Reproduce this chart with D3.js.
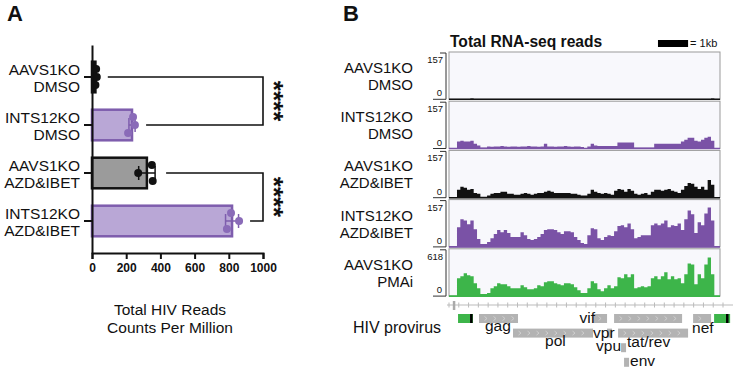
<!DOCTYPE html>
<html>
<head>
<meta charset="utf-8">
<script src="https://cdn.jsdelivr.net/npm/d3@7"></script>
<style>
  body { margin: 0; background: #fff; }
  text { font-family: "Liberation Sans", Arial, sans-serif; fill: #111; }
</style>
</head>
<body>
<div id="chart"></div>
<script>
// ---------- panel A data ----------
const groupLabels = [["AAVS1KO", "DMSO"], ["INTS12KO", "DMSO"], ["AAVS1KO", "AZD&IBET"], ["INTS12KO", "AZD&IBET"]];
const barValues = [20, 234, 321, 819];
const replicates = [[24, 28, 20], [240, 251, 211], [350, 270, 355], [813, 860, 789]];
const errorSD = [5, 18, 48, 38];
const xTicksA = [0, 200, 400, 600, 800, 1000];
const sigPairs = [[0, 1, "****"], [2, 3, "****"]];

// ---------- panel B data ----------
const trackLabels = [["AAVS1KO", "DMSO"], ["INTS12KO", "DMSO"], ["AAVS1KO", "AZD&IBET"], ["INTS12KO", "AZD&IBET"], ["AAVS1KO", "PMAi"]];
const trackMax = [157, 157, 157, 157, 618];
const binStart = 265, binSize = 111;   // bp

const covAavsDmso = [0,0,0,0,3,0,0,0,0,0, 0,0,0,0,0,0,0,0,0,0, 0,0,0,0,0,0,0,0,0,0,
  0,0,0,0,0,0,0,0,0,0, 0,0,0,0,0,0,0,0,0,0, 0,0,0,0,0,0,0,0,0,0,
  0,0,0,0,0,0,0,0,0,0, 0,0,0,0,0,0,3];
const covInts12Dmso = [23,26,23,23,26,16,10,3,3, 7,6,7,7,8,7,6,7,7,6,7,7,8,7,7,6,7, 16,
  7,7,6,7,7,8,7,6,7,7,5, 2,7,16,10, 8,8,8,8,8,8, 20,20,20,20,20, 3,3,3,3,3,3,
  16,16,16,16,16,16,16,16, 23,29,36,36,26,23,29,36,39,26];
const covAavsAzd = [26,36,33,26,29,16,13,3,3,7, 13,16,16,20,20,13,13,10,10,13, 16,13,10,13,16,16,20,23,20,16,
  16,16,16,16,13,13,10,7,7,13, 26,20,16,13,16,13,10,23,29,26, 20,29,23,13,10,13,16,10,20,26,
  26,23,26,29,23,20,16,26,39,49, 46,36,29,36,26,59,43];
const covInts12Azd = [65,92,88,75,88,59,26,10,10,16, 29,43,56,49,56,46,33,33,33,49, 39,26,23,26,33,43,56,59,59,56,
  49,43,52,52,49,33,23, 13,10,39,62,59,29,23,33,39,36, 52,69,72,65,78,59,29,33,39,39,
  39,72,78,72,78,88,65,72,69,78, 56,92,121,108,46,82,72,111,131,88];
const covAavsPma = [232,258,297,271,258,168,103,26,26,39, 103,129,168,155,155,129,103,103,103,142, 116,90,90,103,142,129,181,194,194,168,
  155,142,168,168,155,116,77, 39,39,103,194,168,90,65,103,142,103, 129,245,232,284,245,284,103,116,129,116,
  129,232,258,219,258,310,219,258,219,232, 168,284,426,413,155,284,232,413,503,284];
const coverage = [covAavsDmso, covInts12Dmso, covAavsAzd, covInts12Azd, covAavsPma];
const trackColors = ["#111111", "#7a52a6", "#111111", "#7a52a6", "#3db54a"];

const genes = [
  { name: "5'LTR", start: 300, end: 797, row: 0, ltr: true },
  { name: "gag", start: 997, end: 2292, row: 0 },
  { name: "pol", start: 2126, end: 4784, row: 1 },
  { name: "vif", start: 4784, end: 5249, row: 0 },
  { name: "vpr", start: 5249, end: 5415, row: 1 },
  { name: "vpu", start: 5714, end: 5880, row: 2 },
  { name: "tat/rev", start: 5482, end: 7741, row: 0 },
  { name: "tat/rev", start: 5615, end: 7940, row: 1 },
  { name: "env", start: 5814, end: 5980, row: 3 },
  { name: "nef", start: 8106, end: 8704, row: 0 },
  { name: "3'LTR", start: 8804, end: 9336, row: 0, ltr: true }
];
const ltrMarks = [700, 9200];
const geneLabels = [
  { text: "gag", bp: 1196, y: 331, anchor: "start" },
  { text: "pol", bp: 3189, y: 346, anchor: "start" },
  { text: "vif", bp: 4850, y: 323, anchor: "end" },
  { text: "vpr", bp: 4784, y: 338, anchor: "start" },
  { text: "vpu", bp: 4884, y: 351, anchor: "start" },
  { text: "tat/rev", bp: 5914, y: 347, anchor: "start" },
  { text: "env", bp: 6013, y: 366, anchor: "start" },
  { text: "nef", bp: 8073, y: 333, anchor: "start" }
];

const width = 735, height = 367;
const svg = d3.select("#chart").append("svg")
  .attr("width", width).attr("height", height);

// ================= Panel A =================
svg.append("text").attr("x", 7).attr("y", 21)
  .style("font-size", "22px").style("font-weight", "bold").text("A");

const xA = d3.scaleLinear().domain([0, 1000]).range([92, 263]);
const yA = d3.scaleBand().domain(d3.range(groupLabels.length))
  .range([45, 253]).paddingInner(0.3).paddingOuter(0.317);

const barFill = ["#111111", "#b9a7d6", "#9b9b9b", "#b9a7d6"];
const barStroke = ["#111111", "#7e5dad", "#111111", "#7e5dad"];
const dotFill = ["#111111", "#8a6bb8", "#111111", "#8a6bb8"];

const gA = svg.append("g");

gA.selectAll(".bar").data(barValues).enter().append("rect")
  .attr("x", xA(0))
  .attr("y", (d, i) => yA(i) + 1.5)
  .attr("width", d => xA(d) - xA(0))
  .attr("height", yA.bandwidth() - 3)
  .attr("fill", (d, i) => barFill[i])
  .attr("stroke", (d, i) => barStroke[i])
  .attr("stroke-width", 2.5);

// error bars
barValues.forEach((v, i) => {
  const cy = yA(i) + yA.bandwidth() / 2;
  const g = gA.append("g").attr("stroke", barStroke[i]).attr("stroke-width", 1.5);
  g.append("line").attr("x1", xA(v - errorSD[i])).attr("x2", xA(v + errorSD[i])).attr("y1", cy).attr("y2", cy);
  [v - errorSD[i], v + errorSD[i]].forEach(e => {
    g.append("line").attr("x1", xA(e)).attr("x2", xA(e)).attr("y1", cy - 7).attr("y2", cy + 7);
  });
});

// replicate dots
replicates.forEach((reps, i) => {
  const cy = yA(i) + yA.bandwidth() / 2;
  gA.selectAll(".dot" + i).data(reps).enter().append("circle")
    .attr("cx", d => xA(d))
    .attr("cy", (d, j) => cy + (j - 1) * 8)
    .attr("r", 4)
    .attr("fill", dotFill[i]);
});

// axes
const axisX = gA.append("g").attr("transform", "translate(0,253)")
  .call(d3.axisBottom(xA).tickValues(xTicksA).tickFormat(d3.format("d"))
    .tickSize(6).tickSizeOuter(6).tickPadding(4));
axisX.selectAll("path,line").attr("stroke", "#111").attr("stroke-width", 2);
axisX.selectAll("text").style("font-size", "12px").style("font-weight", "bold")
  .style("font-family", "'Liberation Sans', Arial, sans-serif").attr("fill", "#111");

const axisY = gA.append("g").attr("transform", `translate(${xA(0)},0)`)
  .call(d3.axisLeft(yA).tickSize(8).tickSizeOuter(0).tickFormat(""));
axisY.selectAll("path,line").attr("stroke", "#111").attr("stroke-width", 2);

groupLabels.forEach((lines, i) => {
  const cy = yA(i) + yA.bandwidth() / 2;
  gA.append("text").attr("x", 80).attr("y", cy - 2).attr("text-anchor", "end")
    .style("font-size", "15.5px").text(lines[0]);
  gA.append("text").attr("x", 80).attr("y", cy + 15).attr("text-anchor", "end")
    .style("font-size", "15.5px").text(lines[1]);
});

gA.append("text").attr("x", 170).attr("y", 315).attr("text-anchor", "middle")
  .style("font-size", "15.5px").text("Total HIV Reads");
gA.append("text").attr("x", 170).attr("y", 333).attr("text-anchor", "middle")
  .style("font-size", "15.5px").text("Counts Per Million");

// significance brackets
sigPairs.forEach(([a, b, label]) => {
  const ya = yA(a) + yA.bandwidth() / 2, yb = yA(b) + yA.bandwidth() / 2;
  const endA = xA(Math.max(d3.max(replicates[a]), barValues[a] + errorSD[a])) + 11;
  const endB = xA(Math.max(d3.max(replicates[b]), barValues[b] + errorSD[b])) + 11;
  const xr = xA(1000);
  gA.append("path")
    .attr("d", `M${endA},${ya}H${xr}V${yb}H${endB}`)
    .attr("fill", "none").attr("stroke", "#111").attr("stroke-width", 1.6);
  gA.append("text")
    .attr("transform", `translate(${xr + 2},${(ya + yb) / 2}) rotate(90)`)
    .attr("text-anchor", "middle")
    .style("font-size", "26px").style("font-weight", "bold")
    .text(label);
});

// ================= Panel B =================
svg.append("text").attr("x", 343).attr("y", 21)
  .style("font-size", "22px").style("font-weight", "bold").text("B");

const frameL = 449, frameR = 720;
const xg = d3.scaleLinear().domain([0, 9000]).range([frameL, frameR]);
const trackTop = i => 52 + i * 49.2;
const trackH = 47.3;

const gB = svg.append("g");

gB.append("text").attr("x", 450).attr("y", 47)
  .style("font-size", "15.6px").style("font-weight", "bold").text("Total RNA-seq reads");
gB.append("rect").attr("x", xg(6940)).attr("y", 40).attr("width", xg(7940) - xg(6940)).attr("height", 7).attr("fill", "#000");
gB.append("text").attr("x", xg(7940) + 2).attr("y", 47).style("font-size", "11px").text("= 1kb");

coverage.forEach((vals, i) => {
  const top = trackTop(i), base = top + trackH;
  const y = d3.scaleLinear().domain([0, trackMax[i]]).range([base, top]);
  const g = gB.append("g");

  g.append("rect").attr("x", frameL).attr("y", top).attr("width", frameR - frameL).attr("height", trackH)
    .attr("fill", "#f8f8fc").attr("stroke", "#9a9a9a").attr("stroke-width", 1);

  const pts = vals.map((v, k) => ({ bp: binStart + k * binSize, v }));
  pts.push({ bp: binStart + vals.length * binSize, v: vals[vals.length - 1] });
  g.append("path").datum(pts)
    .attr("d", d3.area().x(d => xg(d.bp)).y0(base).y1(d => y(d.v)).curve(d3.curveStepAfter))
    .attr("fill", trackColors[i]);

  g.append("line").attr("x1", frameL).attr("x2", frameR).attr("y1", base).attr("y2", base)
    .attr("stroke", trackColors[i]).attr("stroke-width", 1.6);

  // range bracket
  g.append("path").attr("d", `M440,${top + 1}H446V${base}H433`)
    .attr("fill", "none").attr("stroke", "#333").attr("stroke-width", 1);
  g.append("text").attr("x", 443).attr("y", top + 11).attr("text-anchor", "end")
    .style("font-size", "9.5px").text(trackMax[i]);
  g.append("text").attr("x", 442).attr("y", base - 3).attr("text-anchor", "end")
    .style("font-size", "9.5px").text(0);

  g.append("text").attr("x", 413).attr("y", top + 21).attr("text-anchor", "end")
    .style("font-size", "15px").text(trackLabels[i][0]);
  g.append("text").attr("x", 413).attr("y", top + 38).attr("text-anchor", "end")
    .style("font-size", "15px").text(trackLabels[i][1]);
});

// ruler
const rulerY = 305;
gB.append("line").attr("x1", 447).attr("x2", 733).attr("y1", rulerY).attr("y2", rulerY)
  .attr("stroke", "#bbb").attr("stroke-width", 1);
gB.selectAll(".rtick").data(d3.range(0, 9400, 325)).enter().append("line")
  .attr("x1", d => xg(d)).attr("x2", d => xg(d))
  .attr("y1", rulerY - 2.5).attr("y2", rulerY + 2.5)
  .attr("stroke", "#bbb").attr("stroke-width", 1);
gB.append("rect").attr("x", xg(160) - 1).attr("y", rulerY - 4).attr("width", 2.5).attr("height", 9).attr("fill", "#aaa");

// gene models
const rowY = r => 314 + r * 14.6;
const geneH = 9;
genes.forEach(gn => {
  const x0 = xg(gn.start), x1 = xg(gn.end), yy = rowY(gn.row);
  gB.append("rect").attr("x", x0).attr("y", yy).attr("width", x1 - x0).attr("height", geneH)
    .attr("fill", gn.ltr ? "#3db54a" : "#b3b3b3");
  if (!gn.ltr && x1 - x0 > 12) {
    d3.range(x0 + 7, x1 - 4, 9).forEach(cx => {
      gB.append("path").attr("d", `M${cx - 1.5},${yy + 2.5}L${cx + 1},${yy + 4.5}L${cx - 1.5},${yy + 6.5}`)
        .attr("fill", "none").attr("stroke", "#d6d6d6").attr("stroke-width", 0.8);
    });
  }
});
ltrMarks.forEach(bp => {
  gB.append("rect").attr("x", xg(bp)).attr("y", rowY(0)).attr("width", 2.5).attr("height", geneH).attr("fill", "#000");
});
geneLabels.forEach(l => {
  gB.append("text").attr("x", xg(l.bp)).attr("y", l.y).attr("text-anchor", l.anchor)
    .style("font-size", "15.5px").text(l.text);
});
gB.append("text").attr("x", 353).attr("y", 333).style("font-size", "16px").text("HIV provirus");
</script>
</body>
</html>
